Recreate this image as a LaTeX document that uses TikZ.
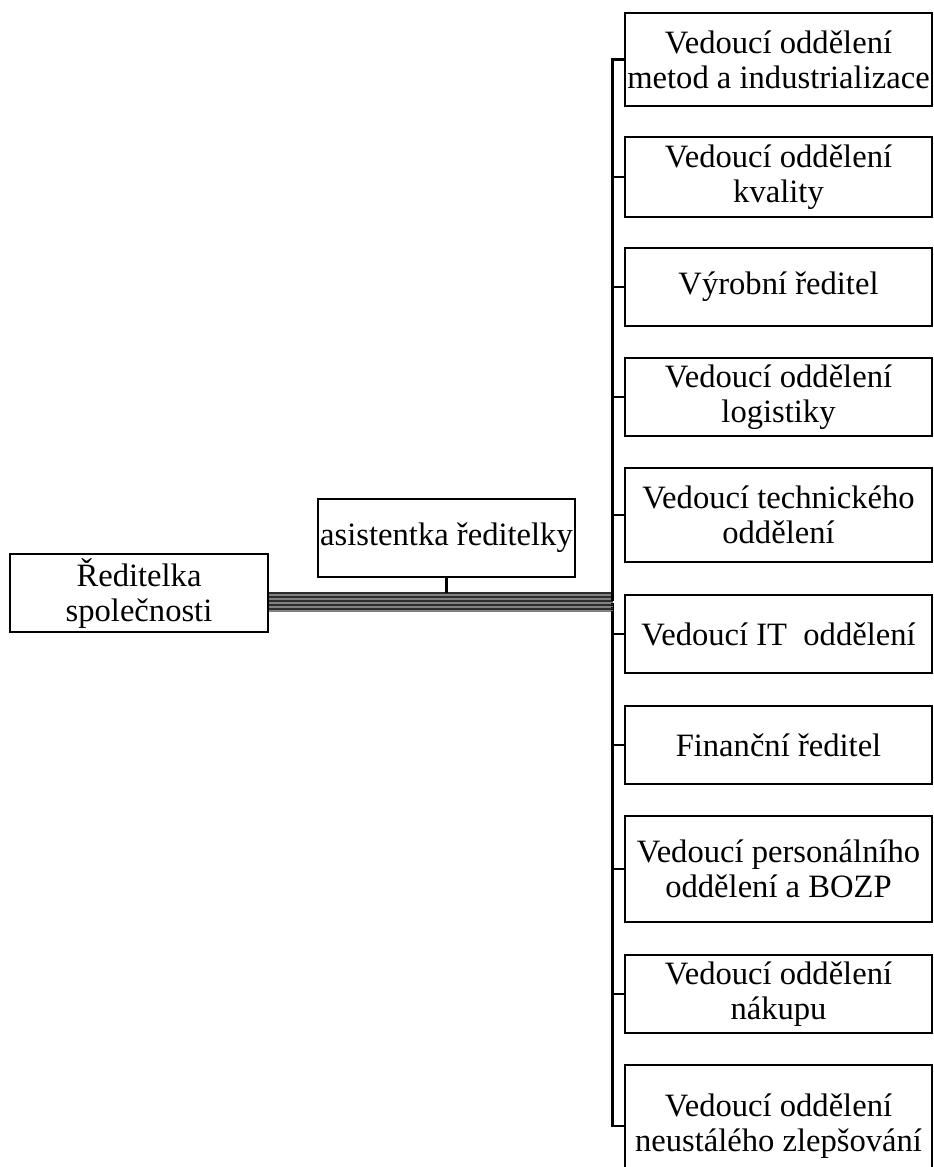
\documentclass[tikz,border=0pt]{standalone}
\usepackage{fontspec}
\setmainfont{Liberation Serif}
\usepackage{tikz}
\usetikzlibrary{calc}
\definecolor{BundleDark}{RGB}{45,45,45}
\definecolor{BundleGrey}{RGB}{130,130,130}

\tikzset{
	unit/.style={draw, line width=2.4pt, fill=white, align=center, inner sep=0pt,
		font=\fontsize{32.6}{35}\selectfont},
	dept/.style={unit, minimum width=307},
	link/.style={line width=2.4pt},
	bundle/.style={line width=2pt}
}

\begin{document}
\begin{tikzpicture}[x=1pt, y=-1pt]
			\useasboundingbox (0,0) rectangle (934,1167);
			\node[unit, minimum width=258, minimum height=78] (boss) at (139,593) {Ředitelka\\společnosti};
			\node[unit, minimum width=257, minimum height=78] (asst) at (446.5,538) {asistentka ředitelky};
			\foreach \n/\y/\h/\t in {
				1/59.5/93/{Vedoucí oddělení\\metod a industrializace},
				2/177/80/{Vedoucí oddělení\\kvality},
				3/287/78/{Výrobní ředitel},
				4/397/78/{Vedoucí oddělení\\logistiky},
				5/515/94/{Vedoucí technického\\oddělení},
				6/634/78/{Vedoucí IT~ oddělení},
				7/745/78/{Finanční ředitel},
				8/869/106/{Vedoucí personálního\\oddělení a BOZP},
				9/994/78/{Vedoucí oddělení\\nákupu},
				10/1126/122/{Vedoucí oddělení\\neustálého zlepšování}}
				\node[dept, minimum height=\h] (b\n) at (778.5,\y) {\t};
			\coordinate (bus) at (612.5,0);
			% one line from the director to every department
			\foreach \n [evaluate=\n as \d using (\n-1)*2] in {1,...,10}{
				\ifodd\n \def\bcol{BundleDark}\else \def\bcol{BundleGrey}\fi
				\draw[bundle, \bcol] ([yshift=-\d pt]boss.east) -- ([yshift=-\d pt]boss.east -| bus);
				\draw[link] ([yshift=-\d pt]boss.east -| bus) |- (b\n.west);
			}
			\draw[link] (asst.south) -- (asst.south |- boss.east);
\end{tikzpicture}
\end{document}
